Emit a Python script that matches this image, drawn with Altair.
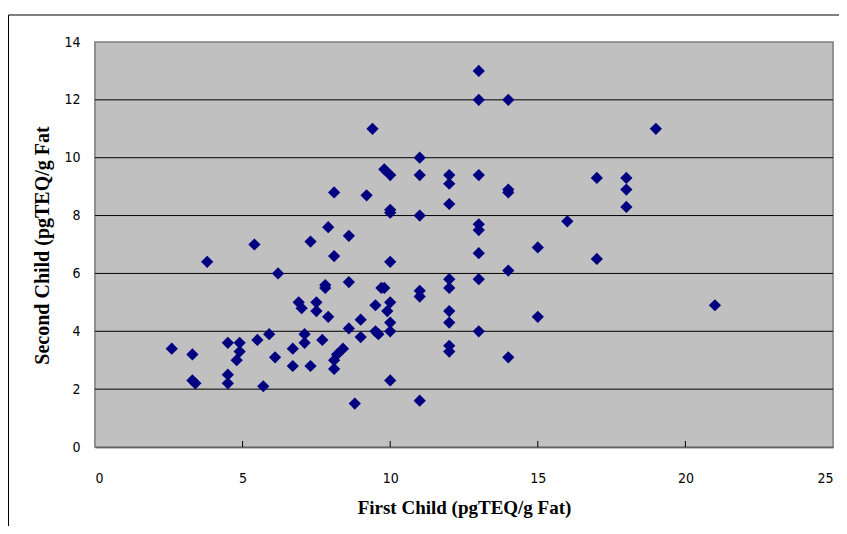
import altair as alt
import pandas as pd

first_child = [2.6, 3.3, 3.3, 3.4, 3.8, 4.5, 4.5, 4.5, 4.8, 4.9,
               4.9, 5.4, 5.5, 5.7, 5.9, 6.1, 6.2, 6.7, 6.7, 6.9,
               7.0, 7.1, 7.1, 7.3, 7.3, 7.5, 7.5, 7.7, 7.8, 7.8,
               7.9, 7.9, 8.1, 8.1, 8.1, 8.1, 8.2, 8.4, 8.6, 8.6,
               8.6, 8.8, 9.0, 9.0, 9.2, 9.4, 9.5, 9.5, 9.6, 9.7,
               9.8, 9.8, 10, 10, 10, 10, 10, 9.9, 10, 10,
               10, 11, 11, 11, 11, 11, 11, 12, 12, 12,
               12, 12, 12, 12, 12, 12, 13, 13, 13, 13,
               13, 13, 13, 13, 14, 14, 14, 14, 14, 15,
               15, 16, 17, 17, 18, 18, 18, 19, 21]
second_child = [3.4, 3.2, 2.3, 2.2, 6.4, 3.6, 2.5, 2.2, 3.0, 3.3,
                3.6, 7.0, 3.7, 2.1, 3.9, 3.1, 6.0, 3.4, 2.8, 5.0,
                4.8, 3.9, 3.6, 2.8, 7.1, 5.0, 4.7, 3.7, 5.6, 5.5,
                4.5, 7.6, 6.6, 8.8, 3.0, 2.7, 3.2, 3.4, 5.7, 7.3,
                4.1, 1.5, 4.4, 3.8, 8.7, 11.0, 4.9, 4.0, 3.9, 5.5,
                5.5, 9.6, 9.4, 8.2, 8.1, 6.4, 5.0, 4.7, 4.3, 4.0,
                2.3, 10.0, 9.4, 8.0, 5.4, 5.2, 1.6, 9.4, 9.1, 8.4,
                5.8, 5.5, 4.7, 4.3, 3.5, 3.3, 13.0, 12.0, 9.4, 7.7,
                7.5, 6.7, 5.8, 4.0, 12.0, 8.9, 8.8, 6.1, 3.1, 6.9,
                4.5, 7.8, 9.3, 6.5, 9.3, 8.9, 8.3, 11.0, 4.9]
x_ticks = [0, 5, 10, 15, 20, 25]
y_ticks = [0, 2, 4, 6, 8, 10, 12, 14]
grid_values = [2, 4, 6, 8, 10, 12]
inner_x_ticks = [5, 10, 15, 20]

df = pd.DataFrame({"first": first_child, "second": second_child})

W, H = 738, 405
label_font = "DejaVu Sans Condensed"
title_font = "Liberation Serif"

xscale = alt.Scale(domain=[0, 25], nice=False, zero=False)
yscale = alt.Scale(domain=[0, 14], nice=False, zero=False)

# plot background
bg = alt.Chart(pd.DataFrame({"a": [0]})).mark_rect(
    color="#C0C0C0", stroke="#808080", strokeWidth=1.5
).encode(
    x=alt.value(0), x2=alt.value(W), y=alt.value(0), y2=alt.value(H)
)

grid = alt.Chart(pd.DataFrame({"g": grid_values})).mark_rule(
    color="#000000", strokeWidth=1
).encode(
    y=alt.Y("g:Q", scale=yscale),
    x=alt.value(0), x2=alt.value(W),
)

points = alt.Chart(df).mark_point(
    shape="diamond", filled=True, color="#000080", size=150, opacity=1
).encode(
    x=alt.X("first:Q", scale=xscale,
            axis=alt.Axis(values=x_ticks, grid=False, ticks=False,
                          domainColor="#000000", domainWidth=1.5,
                          labelFont=label_font, labelFontSize=14, labelColor="#000000",
                          labelPadding=24,
                          title="First Child (pgTEQ/g Fat)",
                          titleFont=title_font, titleFontSize=19, titleFontWeight="bold",
                          titleColor="#000000", titleY=60, titleBaseline="middle")),
    y=alt.Y("second:Q", scale=yscale,
            axis=alt.Axis(values=y_ticks, grid=False,
                          ticks=False, domainColor="#000000", domainWidth=1.5,
                          labelFont=label_font, labelFontSize=14, labelColor="#000000",
                          labelPadding=15,
                          title="Second Child (pgTEQ/g Fat",
                          titleFont=title_font, titleFontSize=20, titleFontWeight="bold",
                          titleColor="#000000", titleAngle=-90, titleX=-53, titleY=203,
                          titleBaseline="middle", titleAlign="center")),
)

tick_df = pd.DataFrame({"t": inner_x_ticks})
inner_ticks = alt.Chart(tick_df).mark_rule(color="#000000", strokeWidth=1).encode(
    x=alt.X("t:Q", scale=xscale),
    y=alt.value(H),
    y2=alt.value(H - 6),
)

frame_top = alt.Chart(pd.DataFrame({"a": [0]})).mark_rule(
    color="#000000", strokeWidth=1
).encode(
    x=alt.value(-86.5), x2=alt.value(W + 30), y=alt.value(-27)
)
frame_left = alt.Chart(pd.DataFrame({"a": [0]})).mark_rule(
    color="#000000", strokeWidth=1
).encode(
    x=alt.value(-86.5), y=alt.value(-27), y2=alt.value(H + 120)
)

chart = alt.layer(bg, grid, points, inner_ticks, frame_top, frame_left).properties(
    width=W, height=H,
    autosize=alt.AutoSizeParams(type="none"),
    padding={"left": 87, "top": 34, "right": 6, "bottom": 79},
).configure_view(
    stroke=None
).configure(background="#FFFFFF")

chart.save("out.html", embed_options={"renderer": "svg", "actions": False})
